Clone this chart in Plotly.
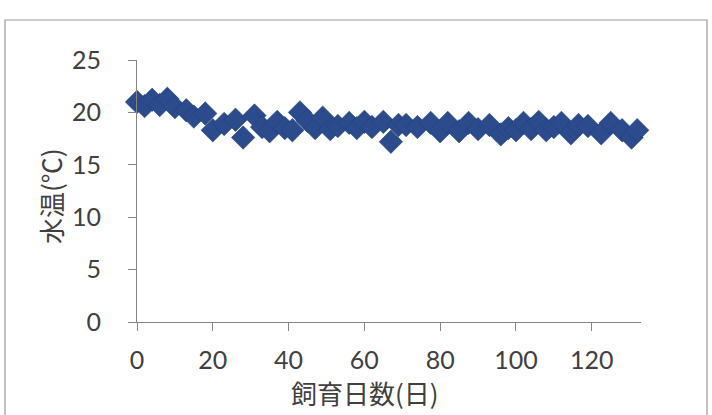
import plotly.graph_objects as go

# Data
days = [0, 2, 4, 6, 8, 10, 13, 15, 18, 20, 23, 26, 28, 31, 33, 35, 37, 39, 41, 43,
        45, 47, 49, 51, 53, 56, 58, 60, 62, 65, 67, 69, 71, 74, 77.5, 80, 82, 85, 87.5,
        90, 93, 96, 98, 100, 102, 104, 106, 108, 110, 112, 114.5, 116.5, 119, 122.5,
        125, 128, 130.5, 132]
temps = [21.0, 20.6, 21.2, 20.7, 21.3, 20.5, 20.2, 19.6, 19.9, 18.3, 18.9, 19.3, 17.6,
         19.7, 18.6, 18.2, 19.1, 18.5, 18.3, 20.0, 19.2, 18.5, 19.5, 18.4, 18.7, 19.0,
         18.5, 19.1, 18.6, 19.1, 17.2, 18.8, 18.8, 18.6, 19.0, 18.2, 19.0, 18.2, 19.0, 18.4,
         18.8, 17.9, 18.5, 18.3, 19.0, 18.4, 19.1, 18.3, 18.6, 19.0, 18.0, 18.8, 18.7,
         18.0, 19.0, 18.3, 17.6, 18.3]

x_ticks = [0, 20, 40, 60, 80, 100, 120]
y_ticks = [0, 5, 10, 15, 20, 25]
x_title = "飼育日数(日)"
y_title = "水温(℃)"

W, H = 712, 415
L, R, T, B = 137, 71, 60, 93
pw, ph = W - L - R, H - T - B

def px_x(p):
    return (p - L) / pw

def px_y(p):
    return (H - B - p) / ph

axis_color = "#868686"
text_color = "#404040"
tick_font = dict(family="Lato, 'Open Sans', sans-serif", size=25, color=text_color)
cjk_font = dict(family="'Noto Sans CJK JP', sans-serif", size=26, color=text_color)

fig = go.Figure()
fig.add_trace(go.Scatter(
    x=days, y=temps, mode="markers", cliponaxis=False,
    marker=dict(symbol="diamond", size=18, color="#2b4b8c",
                line=dict(color="#22407c", width=0.6)),
    showlegend=False, hoverinfo="skip",
))

fig.update_xaxes(
    range=[0, 133], tickmode="array", tickvals=x_ticks,
    showgrid=False, zeroline=False, showline=True, linecolor=axis_color, linewidth=1.2,
    ticks="outside", ticklen=8, tickcolor=axis_color, tickwidth=1.2,
    tickfont=tick_font, ticklabelstandoff=8,
)
fig.update_yaxes(
    range=[0, 25], tickmode="array", tickvals=y_ticks,
    showgrid=False, zeroline=False, showline=True, linecolor=axis_color, linewidth=1.2,
    ticks="outside", ticklen=8, tickcolor=axis_color, tickwidth=1.2,
    tickfont=tick_font, ticklabelstandoff=22,
)

fig.add_annotation(text=x_title, xref="paper", yref="paper",
                   x=px_x(365), y=px_y(392), showarrow=False, font=cjk_font,
                   xanchor="center", yanchor="middle")
fig.add_annotation(text=y_title, xref="paper", yref="paper",
                   x=px_x(50), y=px_y(196), showarrow=False, font=cjk_font,
                   textangle=-90, xanchor="center", yanchor="middle")

# outer chart frame (cut off at bottom in the scan)
fig.add_shape(type="rect", xref="paper", yref="paper",
              x0=px_x(5), x1=px_x(707), y0=px_y(430), y1=px_y(20),
              line=dict(color="#9a9a9a", width=1.2), layer="below")

fig.update_layout(
    width=W, height=H, margin=dict(l=L, r=R, t=T, b=B),
    paper_bgcolor="white", plot_bgcolor="white",
)

fig.write_html("out.html", config={"displayModeBar": False},
               post_script="document.body.style.margin='0';document.body.style.overflow='hidden';")
